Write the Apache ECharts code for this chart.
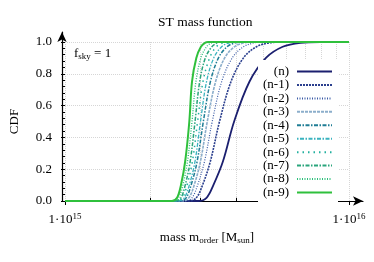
<!DOCTYPE html>
<html><head><meta charset="utf-8">
<script src="https://cdn.jsdelivr.net/npm/echarts@6/dist/echarts.min.js"></script>
<style>html,body{margin:0;padding:0;background:#fff}#c{width:374px;height:262px}</style>
</head><body><div id="c"></div>
<script>
// ---- data (mass in units of 1e15 M_sun, CDF) ----
const seriesNames = ['(n)', '(n-1)', '(n-2)', '(n-3)', '(n-4)', '(n-5)', '(n-6)', '(n-7)', '(n-8)', '(n-9)'];
const cdfLevels = [0, 0, 0.02, 0.1, 0.25, 0.5, 0.75, 0.9, 0.97, 0.995, 1, 1];
const mass_n  = [1, 2.95, 3.15, 3.33, 3.60, 3.94, 4.46, 5.10, 5.84, 6.75, 7.93, 10];
const mass_n1 = [1, 2.74, 2.90, 3.05, 3.25, 3.50, 3.84, 4.25, 4.72, 5.27, 5.93, 10];
const mass_n2 = [1, 2.66, 2.80, 2.93, 3.10, 3.30, 3.56, 3.88, 4.25, 4.65, 5.11, 10];
const mass_n3 = [1, 2.60, 2.73, 2.85, 3.00, 3.17, 3.39, 3.65, 3.95, 4.27, 4.63, 10];
const mass_n4 = [1, 2.55, 2.67, 2.78, 2.92, 3.07, 3.25, 3.47, 3.72, 3.98, 4.27, 10];
const mass_n5 = [1, 2.51, 2.63, 2.74, 2.87, 3.00, 3.15, 3.34, 3.56, 3.78, 4.01, 10];
const mass_n6 = [1, 2.47, 2.59, 2.69, 2.81, 2.93, 3.06, 3.23, 3.41, 3.60, 3.79, 10];
const mass_n7 = [1, 2.45, 2.56, 2.65, 2.76, 2.87, 2.98, 3.12, 3.29, 3.44, 3.59, 10];
const mass_n8 = [1, 2.41, 2.51, 2.60, 2.70, 2.80, 2.89, 3.01, 3.15, 3.28, 3.39, 10];
const mass_n9 = [1, 2.38, 2.48, 2.56, 2.65, 2.74, 2.80, 2.90, 3.01, 3.11, 3.19, 10];
const massArrays = [mass_n, mass_n1, mass_n2, mass_n3, mass_n4, mass_n5, mass_n6, mass_n7, mass_n8, mass_n9];

const xTickValues = [1, 10];
const xTickLabels = ['1·10{sup|15}', '1·10{sup|16}'];
const xMinorGrid = [2, 3, 4, 5, 6, 7, 8, 9];
const yTickLabels = ['0.0', '0.2', '0.4', '0.6', '0.8', '1.0'];

// ---- styles ----
const FONT = '"Liberation Serif", "DejaVu Serif", serif';
const GRID = '#d6d6d6';
const colors = ['#1b1f6f', '#2b3f8e', '#3a5ba6', '#8caecb', '#1f7d95', '#3ab3bf', '#22b09f', '#2aa57c', '#2dbf7a', '#2fc03c'];
const dashes = ['solid', [2, 1], [1, 1.5], [3, 1], [4, 1.5, 1.5, 1.5], [1.5, 1.5, 4, 1.5], [1.5, 4], [4, 1.5, 1.5, 1.5], [1, 1.5], 'solid'];
const widths = [1.8, 1.6, 1.2, 1.6, 1.5, 1.3, 1.5, 1.5, 1.4, 2];

const series = seriesNames.map((name, i) => ({
  name, type: 'line', xAxisIndex: 0, yAxisIndex: 0,
  data: massArrays[i].map((m, k) => [m, cdfLevels[k]]),
  showSymbol: false, symbol: 'none', smooth: 0.35, z: 3,
  lineStyle: { color: colors[i], width: widths[i], type: dashes[i] },
  itemStyle: { color: colors[i] }
}));

const markData = xMinorGrid.map(v => ({ xAxis: v }));
const tickData = xMinorGrid.map(v => [{ coord: [v, 0], lineStyle: { color: '#000', type: 'solid', width: 1 } }, { coord: [v, 0.02] }]);
series.unshift({
  type: 'line', xAxisIndex: 0, yAxisIndex: 0, data: [], z: 1, silent: true,
  markLine: { silent: true, z: 1, symbol: ['none', 'none'], label: { show: false },
    lineStyle: { type: 'dotted', color: GRID, width: 1 },
    data: markData.concat(tickData) }
});

const chart = echarts.init(document.getElementById('c'), null, { renderer: 'canvas' });
chart.setOption({
  animation: false,
  backgroundColor: '#fff',
  title: { text: 'ST mass function', left: 158, top: 15, padding: 0,
    textStyle: { fontFamily: FONT, fontSize: 13.5, fontWeight: 'normal', color: '#000' } },
  grid: [
    { left: 62, right: 25, top: 42, bottom: 61 },
    { left: 62, right: 11, top: 32, bottom: 61 }
  ],
  legend: {
    data: seriesNames, orient: 'vertical', align: 'right', z: 6,
    right: 36, top: 60, padding: [5, 5, 5, 5], backgroundColor: '#fff',
    itemWidth: 35, itemHeight: 13, itemGap: 0.44,
    itemStyle: { opacity: 0 },
    textStyle: { fontFamily: FONT, fontSize: 13, color: '#000', lineHeight: 13, padding: [0, 3, 0, 0] }
  },
  xAxis: [
    { type: 'log', logBase: 10, min: 1, max: 10, gridIndex: 0,
      axisLine: { show: false },
      axisTick: { show: true, length: 4, lineStyle: { color: '#000' } },
      axisLabel: { margin: 11, color: '#000', fontFamily: FONT, fontSize: 13,
        formatter: v => { const i = xTickValues.indexOf(Math.round(v)); return i >= 0 ? xTickLabels[i] : ''; },
        rich: { sup: { fontSize: 9, fontFamily: FONT, color: '#000', verticalAlign: 'bottom', padding: [0, 0, 7, 0] } } },
      splitLine: { show: true, lineStyle: { type: 'dotted', color: GRID } },
      name: 'mass m{sub|order} [M{sub|sun}]', nameLocation: 'middle', nameGap: 29,
      nameTextStyle: { fontFamily: FONT, fontSize: 13, color: '#000',
        rich: { sub: { fontSize: 9, fontFamily: FONT, color: '#000', verticalAlign: 'top', padding: [6, 0, 0, 0] } } } },
    { type: 'value', min: 0, max: 1, gridIndex: 1,
      axisLine: { show: true, symbol: ['none', 'arrow'], symbolSize: [7, 10], lineStyle: { color: '#000', width: 1.2 } },
      axisTick: { show: false }, axisLabel: { show: false }, splitLine: { show: false } }
  ],
  yAxis: [
    { type: 'value', min: 0, max: 1, interval: 0.2, gridIndex: 0,
      axisLine: { show: false },
      axisTick: { show: true, length: 4, lineStyle: { color: '#000' } },
      minorTick: { show: true, splitNumber: 5, length: 2.5, lineStyle: { color: '#000' } },
      axisLabel: { margin: 13, color: '#000', fontFamily: FONT, fontSize: 13,
        formatter: v => yTickLabels[Math.round(v * 5)] },
      splitLine: { show: true, lineStyle: { type: 'dotted', color: GRID } },
      name: 'CDF', nameLocation: 'middle', nameGap: 44, nameRotate: 90,
      nameTextStyle: { fontFamily: FONT, fontSize: 13, color: '#000' } },
    { type: 'value', min: 0, max: 1, gridIndex: 1,
      axisLine: { show: true, symbol: ['none', 'arrow'], symbolSize: [7, 10], lineStyle: { color: '#000', width: 1.2 } },
      axisTick: { show: false }, axisLabel: { show: false }, splitLine: { show: false } }
  ],
  graphic: [
    { type: 'text', left: 74, top: 47, z: 10,
      style: { text: 'f{sub|sky} = 1', font: '13px ' + FONT, fill: '#000',
        rich: { sub: { fontSize: 9, fontFamily: FONT, fill: '#000', verticalAlign: 'top', padding: [6, 0, 0, 0] } } } }
  ],
  series
});
</script>
</body></html>
